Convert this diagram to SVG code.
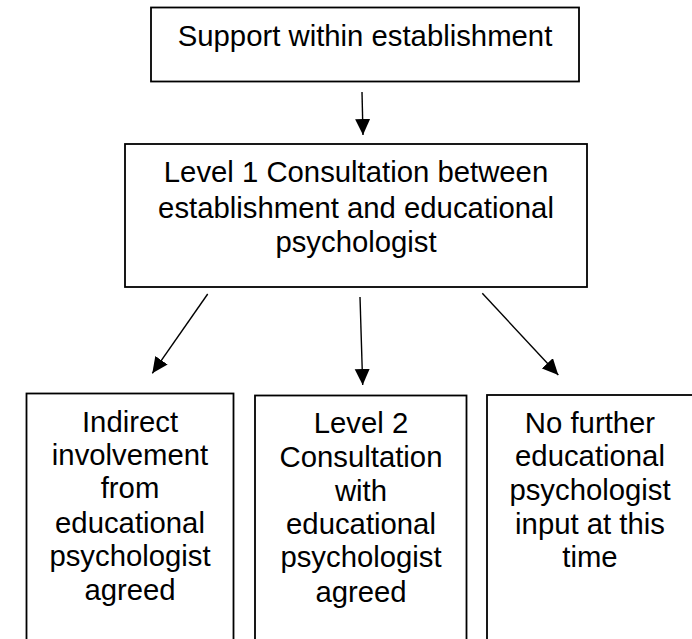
<svg xmlns="http://www.w3.org/2000/svg" width="692" height="639" viewBox="0 0 692 639">
<style>
.box{fill:#fff;stroke:#000;stroke-width:1.8}
.t{font-family:"Liberation Sans",Arial,sans-serif;font-size:29.3px;fill:#000;text-anchor:middle}
.c{stroke:#000;stroke-width:1.4;fill:none;marker-end:url(#ah)}
</style>
<defs>
<marker id="ah" markerUnits="userSpaceOnUse" markerWidth="18" markerHeight="16" refX="16" refY="7.5" orient="auto">
<path d="M0,0 L16,7.5 L0,15 Z" fill="#000"/>
</marker>
</defs>
<rect width="692" height="639" fill="#fff"/>
<g id="n-support">
<rect class="box" x="151" y="7.5" width="428" height="74"/>
<text class="t" x="365" y="45.7">Support within establishment</text>
</g>
<g id="n-level1">
<rect class="box" x="125" y="144" width="462" height="143"/>
<text class="t" x="356" y="182.4">Level 1 Consultation between</text>
<text class="t" x="356" y="217.6">establishment and educational</text>
<text class="t" x="356" y="252">psychologist</text>
</g>
<g id="n-indirect">
<rect class="box" x="26.5" y="393.5" width="207" height="260"/>
<text class="t" x="130" y="431.7">Indirect</text>
<text class="t" x="130" y="465">involvement</text>
<text class="t" x="130" y="498.3">from</text>
<text class="t" x="130" y="532.7">educational</text>
<text class="t" x="130" y="566">psychologist</text>
<text class="t" x="130" y="600">agreed</text>
</g>
<g id="n-level2">
<rect class="box" x="255" y="395.5" width="211.5" height="260"/>
<text class="t" x="361" y="433.3">Level 2</text>
<text class="t" x="361" y="467.3">Consultation</text>
<text class="t" x="361" y="500.7">with</text>
<text class="t" x="361" y="534">educational</text>
<text class="t" x="361" y="567.3">psychologist</text>
<text class="t" x="361" y="601.7">agreed</text>
</g>
<g id="n-nofurther">
<rect class="box" x="487" y="395" width="210" height="260"/>
<text class="t" x="590" y="433.3">No further</text>
<text class="t" x="590" y="465.7">educational</text>
<text class="t" x="590" y="500">psychologist</text>
<text class="t" x="590" y="534">input at this</text>
<text class="t" x="590" y="566.7">time</text>
</g>
<g id="connectors">
<line class="c" x1="362" y1="92" x2="363" y2="135"/>
<line class="c" x1="207.7" y1="294" x2="152.3" y2="373.3"/>
<line class="c" x1="360" y1="297" x2="362.7" y2="385"/>
<line class="c" x1="482.3" y1="293.3" x2="558.3" y2="375"/>
</g>
</svg>
